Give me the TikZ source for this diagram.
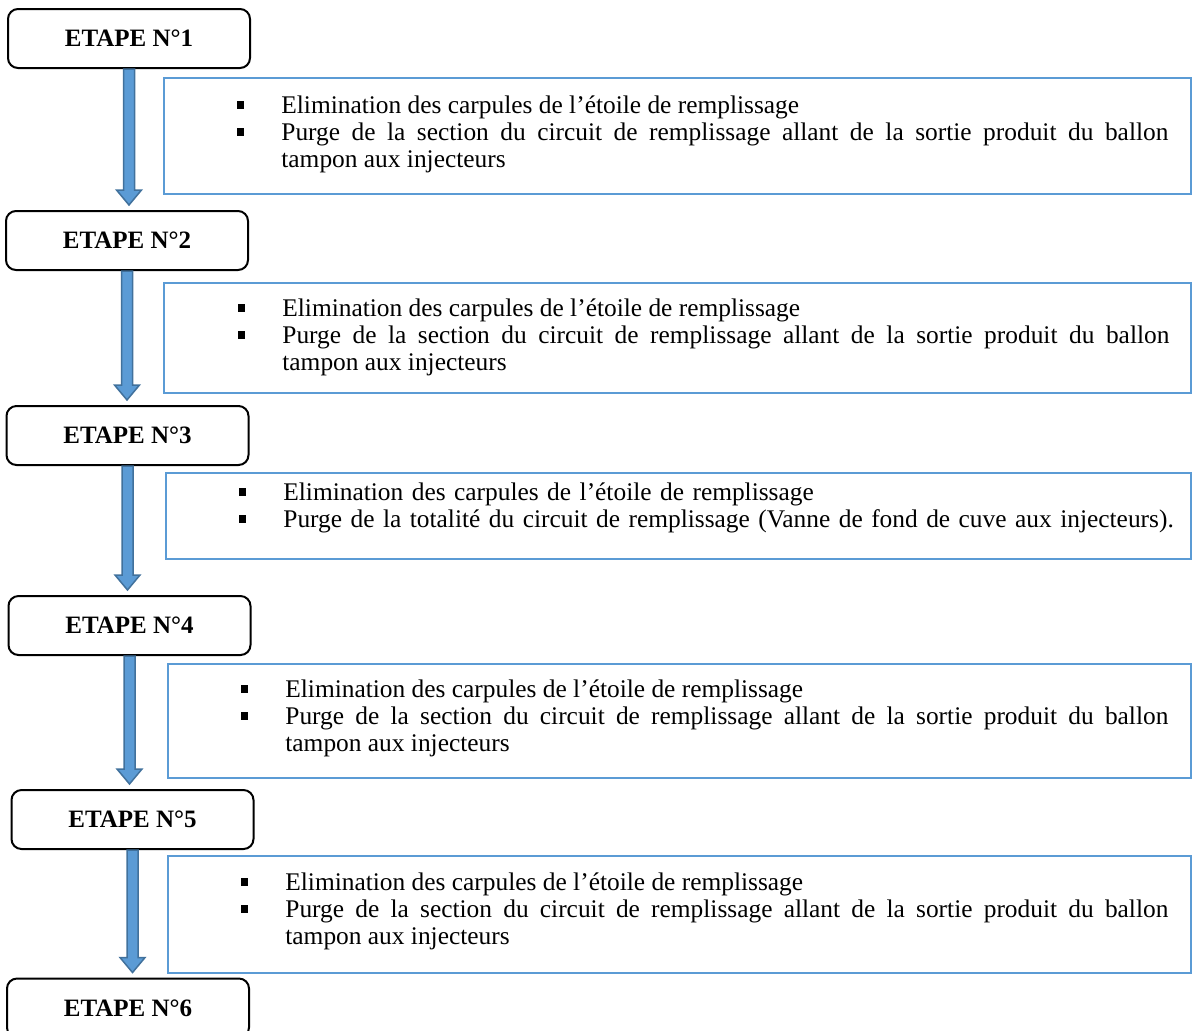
\documentclass[tikz,border=0pt]{standalone}
\usepackage{fontspec}
\setmainfont{Liberation Serif}
\usetikzlibrary{calc}

\definecolor{bleu}{RGB}{91,155,213}
\definecolor{bleufonce}{RGB}{65,113,156}

\newcommand\puce{\leavevmode\llap{\rule[2.4pt]{3.7pt}{3.7pt}\hspace{18.5pt}}}

\tikzset{
  etape/.style={draw, line width=1pt, rounded corners=5pt, fill=white,
    minimum width=121pt, minimum height=29.5pt, inner sep=0pt,
    font=\fontsize{12.5}{14}\selectfont\bfseries},
  cadre/.style={draw=bleu, line width=1.1pt, anchor=north west, inner sep=0pt},
  texte/.style={anchor=north west, inner sep=0pt, text width=443.5pt, align=justify,
    font=\fontsize{12.7}{13.6}\selectfont,
    execute at begin node={\parindent=0pt \hyphenpenalty=10000 }},
  fleche/.style={fill=bleu, draw=bleufonce, line width=0.75pt, line join=miter}
}

\begin{document}
\begin{tikzpicture}[x=0.5pt,y=-0.5pt]
        \useasboundingbox (0,0) rectangle (1192,1030);
        \clip (0,0) rectangle (1192,1030);

        % Steps
        \node[etape] (e1) at (129,38.5) {ETAPE N°1};
        \node[etape] (e2) at (127,240.5) {ETAPE N°2};
        \node[etape] (e3) at (127.5,435.5) {ETAPE N°3};
        \node[etape] (e4) at (129.5,625.5) {ETAPE N°4};
        \node[etape] (e5) at (132.5,819.5) {ETAPE N°5};
        \node[etape] (e6) at (128,1008) {ETAPE N°6};

        % Arrows between steps
        \foreach \a/\b in {e1/e2,e2/e3,e3/e4,e4/e5,e5/e6}
            \draw[fleche] ($(\a.south)+(-5.5,0)$) -- ($(\a.south |- \b.north)+(-5.5,-20)$)
                -- ++(-7,0) -- ($(\a.south |- \b.north)+(0,-5)$)
                -- ($(\a.south |- \b.north)+(12.5,-20)$) -- ++(-7,0)
                -- ($(\a.south)+(5.5,0)$) -- cycle;

        % Blue boxes
        \node[cadre, minimum width=513.5pt, minimum height=58pt] (c1) at (163,77) {};
        \node[cadre, minimum width=513.5pt, minimum height=55pt] (c2) at (163,282) {};
        \node[cadre, minimum width=512.5pt, minimum height=43pt] (c3) at (165,472) {};
        \node[cadre, minimum width=511.5pt, minimum height=57pt] (c4) at (167,663) {};
        \node[cadre, minimum width=511.5pt, minimum height=58.5pt] (c5) at (167,855) {};

        % Texts
        \node[texte] (t1) at (281,94) {\strut\puce Elimination des carpules de l’étoile de remplissage\par
            \puce Purge de la section du circuit de remplissage allant de la sortie produit du ballon\linebreak tampon aux injecteurs};
        \node[texte] (t2) at (282,297) {\strut\puce Elimination des carpules de l’étoile de remplissage\par
            \puce Purge de la section du circuit de remplissage allant de la sortie produit du ballon\linebreak tampon aux injecteurs};
        \node[texte, text width=455pt, align=left] (t3) at (283,481) {\strut\puce Elimination des carpules de l’étoile de remplissage\par
            \puce Purge de la totalité du circuit de remplissage (Vanne de fond de cuve aux injecteurs).};
        \node[texte, text width=441.5pt] (t4) at (285,678) {\strut\puce Elimination des carpules de l’étoile de remplissage\par
            \puce Purge de la section du circuit de remplissage allant de la sortie produit du ballon\linebreak tampon aux injecteurs};
        \node[texte, text width=441.5pt] (t5) at (285,871) {\strut\puce Elimination des carpules de l’étoile de remplissage\par
            \puce Purge de la section du circuit de remplissage allant de la sortie produit du ballon\linebreak tampon aux injecteurs};
\end{tikzpicture}
\end{document}
